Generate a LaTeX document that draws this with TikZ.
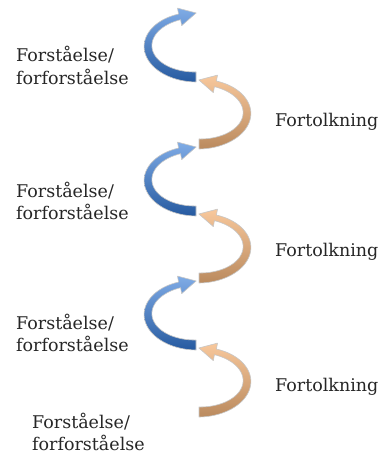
\documentclass[tikz,border=0pt]{standalone}
\usepackage{fontspec}
\setmainfont{DejaVu Serif}
\definecolor{blueL}{RGB}{128,172,230}
\definecolor{blueD}{RGB}{38,90,160}
\definecolor{peachL}{RGB}{248,200,156}
\definecolor{peachD}{RGB}{186,138,94}
% Tapered curved ribbon with an arrowhead, centred on the arc's centre.
% The tail sits at the bottom (t=90), the head at the top (t=250).
\newcommand\ribbonpath{%
  plot[domain=90:250,samples=60]
    ({(48+(10-(\x-90)/40)/2)*cos(\x)},{(31+(10-(\x-90)/40)/2)*sin(\x)})
  -- (-18.48,-37.90) -- (0.14,-33.02) -- (-14.36,-20.36)
  -- plot[domain=250:90,samples=60]
    ({(48-(10-(\x-90)/40)/2)*cos(\x)},{(31-(10-(\x-90)/40)/2)*sin(\x)})
  -- cycle}
\begin{document}
\begin{tikzpicture}[x=1pt,y=-1pt,
  lbltext/.style={anchor=base west, inner sep=0pt, text=black!85,
    font=\fontsize{17.5}{22.5}\selectfont},
  ribbon/.style={draw=black!22, line width=0.6pt, line join=round}]
\useasboundingbox[fill=white] (0,0) rectangle (384,454);

% blue arrows curve out to the left, peach arrows to the right
\foreach \k in {0,1,2}{
  \begin{scope}[shift={(196,46+134*\k)}]
    \shade[ribbon, top color=blueL, bottom color=blueD] \ribbonpath;
  \end{scope}
  \begin{scope}[shift={(199,113+134*\k)}, xscale=-1]
    \shade[ribbon, top color=peachL, bottom color=peachD] \ribbonpath;
  \end{scope}
}

% labels
\node[lbltext] (f1) at (16,61.7)  {\begin{tabular}[t]{@{}l@{}}Forståelse/\\forforståelse\end{tabular}};
\node[lbltext] (f2) at (16,197.3) {\begin{tabular}[t]{@{}l@{}}Forståelse/\\forforståelse\end{tabular}};
\node[lbltext] (f3) at (16,329.3) {\begin{tabular}[t]{@{}l@{}}Forståelse/\\forforståelse\end{tabular}};
\node[lbltext] (f4) at (32,428.3) {\begin{tabular}[t]{@{}l@{}}Forståelse/\\forforståelse\end{tabular}};
\node[lbltext] (t1) at (275,126.7) {Fortolkning};
\node[lbltext] (t2) at (275,256.7) {Fortolkning};
\node[lbltext] (t3) at (275,391.7) {Fortolkning};
\end{tikzpicture}
\end{document}
